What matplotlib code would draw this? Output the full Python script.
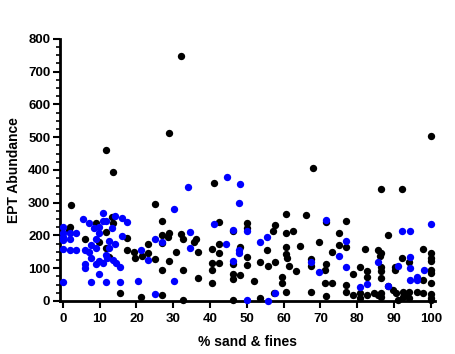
import matplotlib
matplotlib.use("Agg")
import matplotlib.pyplot as plt
from matplotlib.ticker import MultipleLocator

plt.rcParams['font.family'] = ['Liberation Sans', 'DejaVu Sans']
plt.rcParams['font.weight'] = 'bold'

# Black points (% sand & fines, EPT abundance)
black_x = [2.3, 2, 1.8, 5.9, 9, 9.8, 11.6, 13.6, 11.6, 11.6, 13.4, 13.6, 12.5, 15.4,
           17.4, 17.4, 19.4, 19.6, 21.2, 21.4, 23.1, 23.1, 25, 25, 27, 27, 27, 27, 27,
           28.9, 28.9, 28.7, 28.9, 30.8, 32.2, 32.2, 32.6, 32.7, 32.7, 35.7, 36.2, 36.6,
           36.6, 40.4, 40.4, 40.4, 40.4, 41.1, 42.4, 42.4, 42.4, 42.4, 46.2, 46.3, 46.3,
           46.3, 46.3, 48.1, 48.1, 50, 50, 50, 50, 51.9, 53.6, 53.6, 55.4, 55.7, 57.2,
           57.7, 57.7, 57.4, 60.6, 60.6, 60.6, 60.6, 61, 61.5, 59.5, 59.5, 60.6, 62.4,
           63.3, 64.3, 66.1, 67.3, 67.9, 67.3, 67.3, 69.6, 71.5, 71.5, 71.2, 71.2, 71.5,
           73.1, 73.1, 75.1, 75.1, 76.8, 76.8, 76.8, 76.8, 78.7, 78.7, 80.7, 80.7, 80.7,
           82.1, 82.5, 82.5, 82.5, 84.5, 85.7, 86.1, 86.4, 86.4, 86.4, 86.4, 86.4, 86.4,
           86.4, 85.7, 88.4, 88.4, 89.8, 90.2, 90.2, 90.5, 91.1, 92.2, 92.2, 92.5, 92.5,
           93.4, 94.1, 94.1, 94.1, 96.1, 97.9, 97.9, 97.9, 100, 100, 100, 100, 100, 100,
           100, 100, 100, 100]
black_y = [293, 227, 217, 188, 239, 181, 461, 394, 210, 161, 255, 239, 135, 25,
           193, 156, 149, 130, 12, 137, 174, 146, 296, 129, 244, 200, 176, 93, 18,
           512, 207, 196, 122, 148, 748, 203, 190, 95, 3, 181, 188, 148,
           71, 159, 115, 95, 56, 361, 242, 174, 146, 115, 66, 82, 112,
           212, 3, 164, 79, 237, 224, 135, 110, 61, 118, 10, 156, 108, 212,
           233, 120, 25, 264, 207, 164, 143, 130, 107, 74, 54, 26, 214,
           90, 169, 261, 127, 405, 108, 26, 180, 242, 112, 93, 54, 15,
           150, 54, 207, 171, 245, 166, 49, 28, 82, 18, 105, 23, 10,
           159, 92, 72, 18, 23, 154, 138, 341, 145, 105, 90, 71, 25,
           13, 18, 200, 44, 34, 93, 105, 23, 3, 341, 130, 28, 13,
           20, 8, 120, 28, 28, 158, 64, 25, 505, 145, 130, 123, 95, 85,
           56, 21, 8, 3]

# Blue points
blue_x = [0, 0, 0, 0, 0, 0, 2, 2, 2, 3.6, 3.6, 5.4, 5.9, 5.9, 5.9, 7.2, 7.2, 7.7,
          7.7, 7.7, 8.5, 9, 9, 9, 9.8, 9.8, 9.8, 9.8, 10.8, 10.8, 10.8, 11.8, 11.6,
          11.6, 12.5, 12.5, 12, 13.4, 13.6, 14.3, 14.3, 14.5, 15.4, 15.4, 16.1, 16.1,
          17.4, 21.2, 20.5, 23.2, 25, 25, 27, 30.2, 30.2, 33.9, 34.6, 34.6, 41.1, 44.2,
          44.7, 46.2, 46.2, 48.1, 47.9, 47.9, 47.9, 50, 50, 53.6, 55.4, 55.7, 57.7,
          67.3, 69.6, 71.5, 75.1, 76.8, 76.8, 80.7, 82.7, 85.7, 88.4, 91.1, 92.2,
          94.3, 94.3, 94.3, 94.3, 96.1, 96.1, 98.1, 100]
blue_y = [227, 207, 196, 186, 158, 59, 207, 188, 156, 207, 154, 249, 154, 112, 102,
          239, 149, 171, 130, 57, 222, 188, 161, 112, 227, 207, 122, 81, 268, 245,
          115, 245, 140, 59, 184, 161, 130, 222, 125, 258, 174, 115, 105, 59, 253,
          198, 242, 156, 61, 125, 188, 20, 181, 281, 62, 349, 210, 163, 234, 174,
          378, 217, 122, 356, 300, 156, 146, 212, 3, 179, 194, 1, 23,
          118, 87, 247, 138, 184, 105, 41, 51, 118, 44, 107, 214,
          214, 135, 102, 64, 74, 64, 95, 235]

fig = plt.figure(figsize=(4.55, 3.54), dpi=100)
ax = fig.add_axes([0.132, 0.150, 0.824, 0.740])

ax.scatter(black_x, black_y, s=28, color='black', linewidths=0, clip_on=False, zorder=3)
ax.scatter(blue_x, blue_y, s=28, color='#0000ff', linewidths=0, clip_on=False, zorder=4)

ax.set_xlim(-0.75, 101.1)
ax.set_ylim(0, 800)
ax.xaxis.set_major_locator(MultipleLocator(10))
ax.yaxis.set_major_locator(MultipleLocator(100))
ax.yaxis.set_minor_locator(MultipleLocator(25))

ax.spines['top'].set_visible(False)
ax.spines['right'].set_visible(False)
ax.spines['left'].set_linewidth(2)
ax.spines['bottom'].set_linewidth(2)

ax.tick_params(axis='both', which='major', direction='out', length=5, width=1.5,
               labelsize=9.5, pad=2)
ax.tick_params(axis='x', which='major', pad=4)
ax.tick_params(axis='y', which='minor', direction='out', length=3, width=1.2)

ax.set_xlabel('% sand & fines', fontsize=10, fontweight='bold', labelpad=7)
ax.set_ylabel('EPT Abundance', fontsize=10, fontweight='bold', labelpad=5)

fig.savefig('out.png', dpi=100)
